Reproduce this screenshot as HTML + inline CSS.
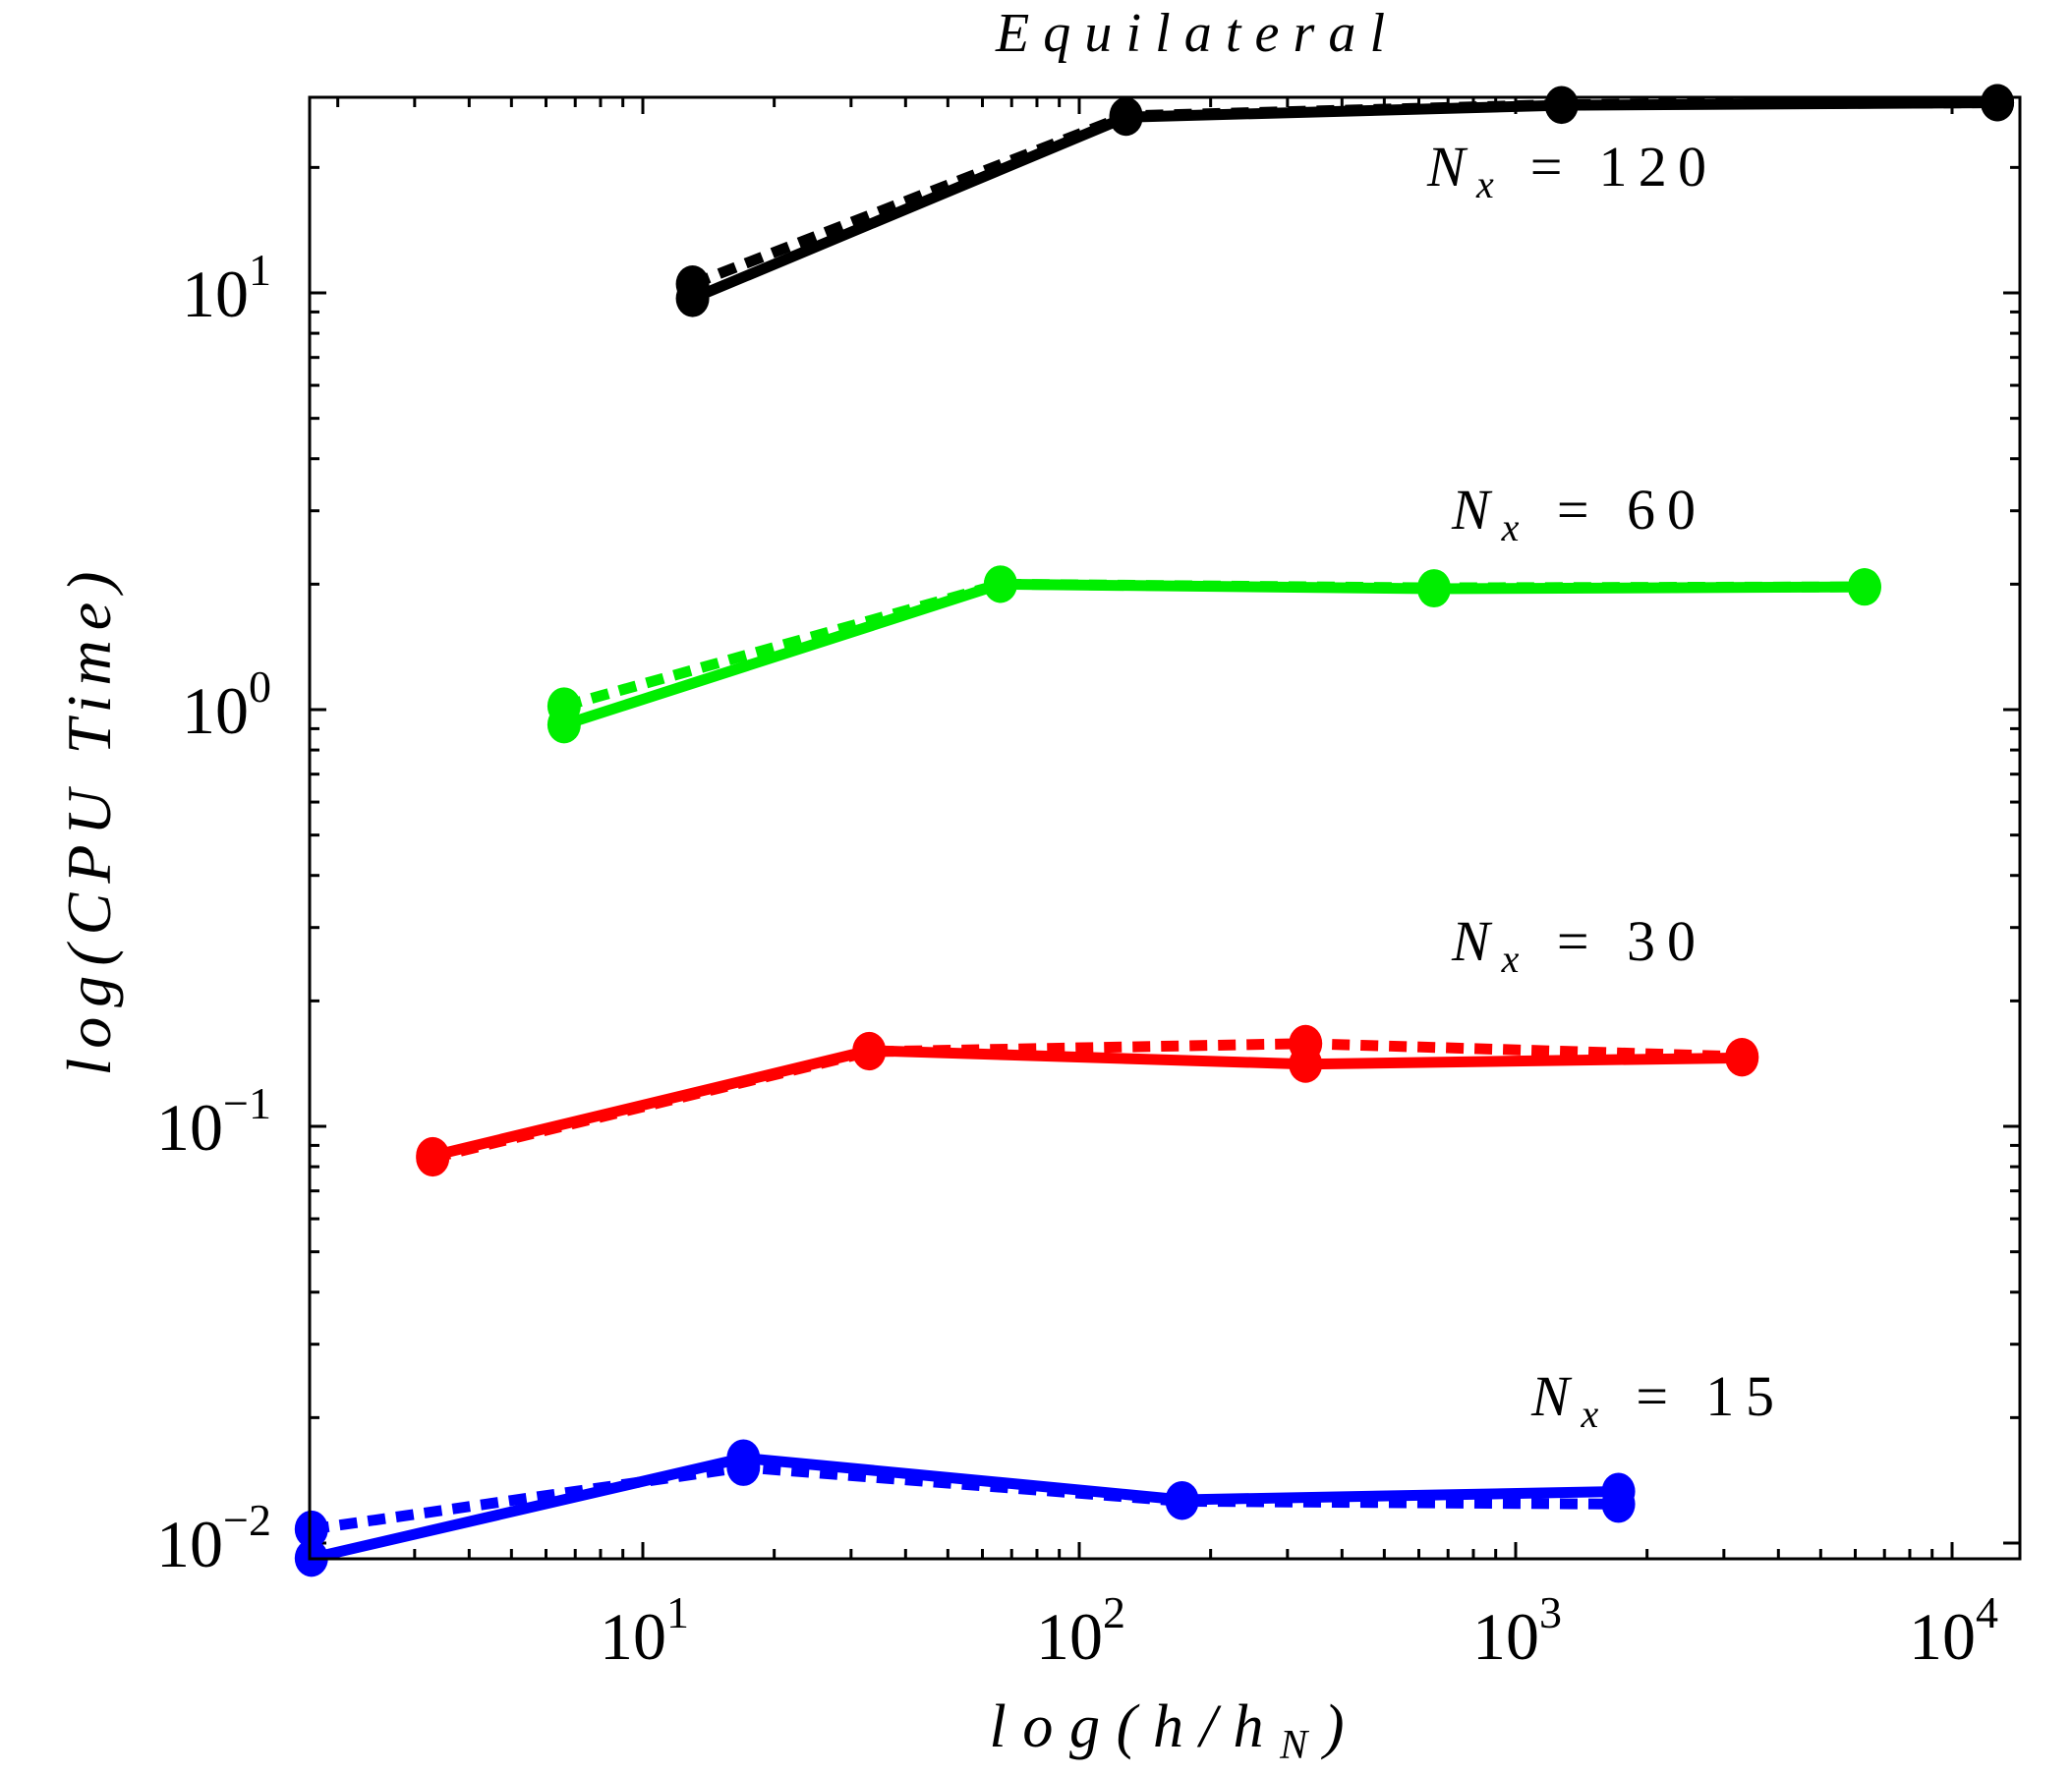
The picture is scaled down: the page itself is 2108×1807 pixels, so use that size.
<!DOCTYPE html>
<html><head><meta charset="utf-8"><style>
html,body{margin:0;padding:0;background:#fff;}
svg{display:block;font-family:"Liberation Serif",serif;}
</style></head><body>
<svg id="chart" width="2108" height="1807" viewBox="0 0 2108 1807" xmlns="http://www.w3.org/2000/svg">
<text x="1211" y="52" font-size="56" font-style="italic" text-anchor="middle" textLength="396" lengthAdjust="spacing">Equilateral</text>
<g id="ticks"></g>
<g id="marks"></g>
<rect x="315" y="99" width="1740" height="1487" fill="none" stroke="#000" stroke-width="3"/>
<g id="labels" font-size="68"></g>
<text transform="translate(112,838) rotate(-90)" font-size="64" font-style="italic" text-anchor="middle" textLength="513" lengthAdjust="spacing">log(CPU Time)</text>
<text x="1187" y="1777" font-size="62" font-style="italic" text-anchor="middle" textLength="361" lengthAdjust="spacing">log(h/h<tspan font-size="42" dy="12">N</tspan><tspan dy="-12">)</tspan></text>
<g font-size="58">
<text x="1452" y="189" textLength="284" lengthAdjust="spacing"><tspan font-style="italic">N</tspan><tspan font-style="italic" font-size="40" dy="12">x</tspan><tspan dy="-12"> = 120</tspan></text>
<text x="1477" y="538" textLength="248" lengthAdjust="spacing"><tspan font-style="italic">N</tspan><tspan font-style="italic" font-size="40" dy="12">x</tspan><tspan dy="-12"> = 60</tspan></text>
<text x="1477" y="977" textLength="248" lengthAdjust="spacing"><tspan font-style="italic">N</tspan><tspan font-style="italic" font-size="40" dy="12">x</tspan><tspan dy="-12"> = 30</tspan></text>
<text x="1558" y="1440" textLength="247" lengthAdjust="spacing"><tspan font-style="italic">N</tspan><tspan font-style="italic" font-size="40" dy="12">x</tspan><tspan dy="-12"> = 15</tspan></text>
</g>
</svg>
<script>
const seriesNames = ['nx-120','nx-60','nx-30','nx-15'];
const seriesColors = ['#000000','#00ee00','#ff0000','#0000ff'];
const xNx120 = [13, 128, 1274, 12700];
const yNx120Solid = [9.7, 26.4, 28.2, 28.6];
const yNx120Dashed = [10.5, 26.6, 28.3, 28.6];
const xNx60 = [6.6, 66, 650, 6300];
const yNx60Solid = [0.92, 2.0, 1.95, 1.97];
const yNx60Dashed = [1.02, 2.0, 1.96, 1.97];
const xNx30 = [3.3, 33, 330, 3300];
const yNx30Solid = [0.085, 0.152, 0.141, 0.146];
const yNx30Dashed = [0.084, 0.151, 0.158, 0.147];
const xNx15 = [1.74, 17, 172, 1720];
const yNx15Solid = [0.0092, 0.016, 0.0127, 0.0133];
const yNx15Dashed = [0.0108, 0.0152, 0.0126, 0.0124];
const xTickLabels = ['1','2','3','4'];
const yTickLabels = ['1','0','\u22121','\u22122'];

const NS='http://www.w3.org/2000/svg';
const L=315,R=2055,T=99,B=1586;
const X10=654, XDEC=444, Y10=298, YDEC=424;
function xs(v){return X10+(Math.log10(v)-1)*XDEC;}
function ys(v){return Y10-(Math.log10(v)-1)*YDEC;}
function mk(tag,attrs,parent){const e=document.createElementNS(NS,tag);for(const k in attrs)e.setAttribute(k,attrs[k]);parent.appendChild(e);return e;}
const ticks=document.getElementById('ticks'), labels=document.getElementById('labels'), marks=document.getElementById('marks');
for(let d=0; d<=4; d++){
  for(let m=1;m<10;m++){
    const v=m*Math.pow(10,d); const x=xs(v);
    if(x<L||x>R) continue;
    const len=m===1?17:10;
    const t1=mk('line',{x1:x,x2:x,y1:B,y2:B-len,stroke:'#000','stroke-width':3},ticks);
    
    
    const t2=mk('line',{x1:x,x2:x,y1:T,y2:T+len,stroke:'#000','stroke-width':3},ticks);
    
    
  }
}
for(let d=-3; d<=1; d++){
  for(let m=1;m<10;m++){
    const v=m*Math.pow(10,d); const y=ys(v);
    if(y<T||y>B) continue;
    const len=m===1?17:10;
    const t1=mk('line',{x1:L,x2:L+len,y1:y,y2:y,stroke:'#000','stroke-width':3},ticks);
    
    
    const t2=mk('line',{x1:R,x2:R-len,y1:y,y2:y,stroke:'#000','stroke-width':3},ticks);
    
    
  }
}
xTickLabels.forEach(function(p){
  const x=xs(Math.pow(10,+p));
  const t=mk('text',{x:x-44,y:1688},labels);
  
  
  t.textContent='10';
  const s=mk('tspan',{'font-size':46,dy:-32},t); s.textContent=p;
});
yTickLabels.forEach(function(p){
  const v=Math.pow(10,+p.replace('\u2212','-'));
  const y=ys(v);
  const t=mk('text',{x:276,y:y+24,'text-anchor':'end'},labels);
  
  
  const a=mk('tspan',{},t); a.textContent='10';
  const s=mk('tspan',{'font-size':46,dy:-32},t); s.textContent=p;
});
const series=[[xNx120,yNx120Solid,yNx120Dashed],[xNx60,yNx60Solid,yNx60Dashed],[xNx30,yNx30Solid,yNx30Dashed],[xNx15,yNx15Solid,yNx15Dashed]];
series.forEach(function(s,i){
  const col=seriesColors[i];
  const g=mk('g',{},marks);
  
  
  [s[2],s[1]].forEach(function(yv,k){
    const pts=s[0].map(function(x,j){return xs(x)+','+ys(yv[j]);}).join(' ');
    const attrs={points:pts,fill:'none',stroke:col,'stroke-width':11,'stroke-linejoin':'round'};
    if(k===0) attrs['stroke-dasharray']='18 11';
    const pl=mk('polyline',attrs,g);
    
    
    s[0].forEach(function(x,j){
      const c=mk('ellipse',{cx:xs(x),cy:ys(yv[j]),rx:17,ry:19,fill:col},g);
      
      
    });
  });
});
</script>
</body></html>
